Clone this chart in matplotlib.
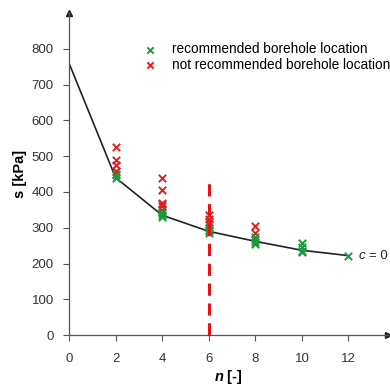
import matplotlib
matplotlib.use("Agg")
import matplotlib.pyplot as plt

plt.rcParams['font.family'] = ['Liberation Sans', 'DejaVu Sans']
plt.rcParams['mathtext.fontset'] = 'custom'
plt.rcParams['mathtext.it'] = 'Liberation Sans:italic:bold'
plt.rcParams['mathtext.bf'] = 'Liberation Sans:bold'

curve_n = [0, 2, 4, 6, 8, 10, 12]
curve_s = [760, 440, 335, 290, 262, 237, 222]

green_n = [2, 2, 4, 4, 4, 4, 6, 6, 6, 6, 8, 8, 8, 8, 10, 10, 10, 10, 12]
green_s = [440, 448, 345, 340, 335, 330, 300, 295, 290, 285, 275, 265, 260, 255, 258, 245, 235, 232, 222]

red_n = [2, 2, 2, 2, 2, 4, 4, 4, 4, 4, 4, 6, 6, 6, 6, 8, 8]
red_s = [525, 490, 475, 460, 450, 440, 405, 370, 365, 360, 350, 335, 325, 315, 310, 305, 285]

xticks = [0, 2, 4, 6, 8, 10, 12]
yticks = [0, 100, 200, 300, 400, 500, 600, 700, 800]
cut_n = 6
cut_top = 440

fig = plt.figure(figsize=(3.9, 3.86), dpi=100)
ax = fig.add_axes([0.177, 0.132, 0.818, 0.834])

ax.plot(curve_n, curve_s, color='#222222', lw=1.2, zorder=2)
ax.scatter(red_n, red_s, marker='x', color='#e02020', s=28, lw=1.4, zorder=3,
           label='not recommended borehole location')
ax.scatter(green_n, green_s, marker='x', color='#1a9a3a', s=28, lw=1.4, zorder=4,
           label='recommended borehole location')
ax.plot([cut_n, cut_n], [0, cut_top], color='#e81010', lw=2.2, ls=(0, (4, 2.5)), zorder=5)

ax.text(12.42, 222, 'c', fontsize=9.5, style='italic', va='center', ha='left', color='#222222')
ax.text(12.88, 222, '= 0', fontsize=9.5, va='center', ha='left', color='#222222')

ax.set_xlim(0, 13.7)
ax.set_ylim(0, 900)
ax.set_xticks(xticks)
ax.set_yticks(yticks)
for s in ['top', 'right']:
    ax.spines[s].set_visible(False)
for s in ['left', 'bottom']:
    ax.spines[s].set_color('#555555')
    ax.spines[s].set_linewidth(0.9)
ax.tick_params(colors='#555555', labelcolor='#333333', labelsize=9.5, length=4, width=0.8)
ax.tick_params(axis='x', pad=9)
ax.tick_params(axis='y', pad=7)
ax.plot(1, 0, '>', color='#222222', ms=5, transform=ax.get_yaxis_transform(), clip_on=False)
ax.plot(0, 1, '^', color='#222222', ms=5, transform=ax.get_xaxis_transform(), clip_on=False)

ax.set_xlabel(r'$\it{n}$ [-]', fontsize=10.5, fontweight='bold', labelpad=2)
ax.set_ylabel('s [kPa]', fontsize=10.5, fontweight='bold', labelpad=3)

h, l = ax.get_legend_handles_labels()
ax.legend(h[::-1], l[::-1], loc='upper left', bbox_to_anchor=(0.2326, 0.91), frameon=False,
          fontsize=9.8, handletextpad=1.1, labelspacing=0.13, borderaxespad=0, borderpad=0,
          scatterpoints=1, handlelength=1.0, markerscale=0.85)

fig.savefig('out.png', dpi=100)
